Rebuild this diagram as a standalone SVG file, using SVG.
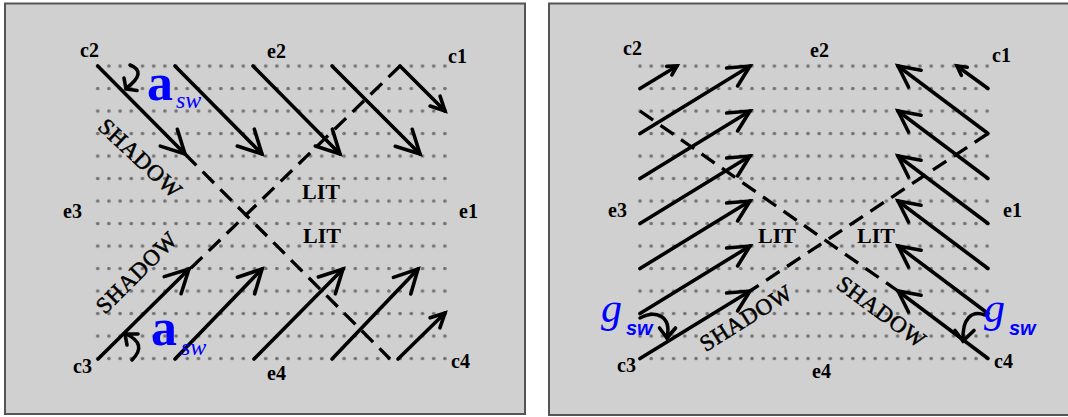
<svg xmlns="http://www.w3.org/2000/svg" width="1068" height="417" viewBox="0 0 1068 417">
<defs>
<style>
.panel{fill:#d0d0d0;stroke:#555;stroke-width:2}
.arr{fill:none;stroke:#000;stroke-width:3.6;stroke-linecap:round}
.dash{fill:none;stroke:#000;stroke-width:3.3;stroke-dasharray:16 9}
.curl{fill:none;stroke:#000;stroke-width:3.5;stroke-linecap:round;stroke-linejoin:miter}
.hd{fill:none;stroke:#000;stroke-width:3.6;stroke-linejoin:miter;stroke-linecap:round}
.lbl{font-family:"Liberation Serif","Times New Roman",serif;font-weight:bold;font-size:20px;fill:#000}
.lit{font-family:"Liberation Serif","Times New Roman",serif;font-weight:bold;font-size:22px;fill:#000}
.shadow{font-family:"Liberation Serif","Times New Roman",serif;font-size:23px;letter-spacing:0.6px;text-anchor:middle;fill:#000;stroke:#000;stroke-width:0.5}
.a{font-family:"Liberation Serif","Times New Roman",serif;font-weight:bold;font-size:52px;fill:#0000ff}
.asub{font-family:"Liberation Serif","Times New Roman",serif;font-style:italic;font-size:24px;fill:#0000ff}
.g{font-family:"Liberation Serif","Times New Roman",serif;font-style:italic;font-size:42px;fill:#0000ff}
.gsub{font-family:"Liberation Sans",Arial,sans-serif;font-style:italic;font-weight:bold;font-size:20px;fill:#0000ff}
</style>
<pattern id="dotsL" patternUnits="userSpaceOnUse" x="92.1" y="54.75" width="11.2" height="22.5"><circle cx="5.6" cy="11.25" r="1.8" fill="#737373"/></pattern>
<pattern id="dotsR" patternUnits="userSpaceOnUse" x="634.4" y="54.75" width="11.2" height="22.5"><circle cx="5.6" cy="11.25" r="1.8" fill="#737373"/></pattern>
<marker id="hL" markerUnits="userSpaceOnUse" orient="auto" markerWidth="40" markerHeight="40" refX="0" refY="0" overflow="visible"><path class="hd" d="M-23,-12 L0,0 L-23,12"/></marker>
<marker id="hM" markerUnits="userSpaceOnUse" orient="auto" markerWidth="40" markerHeight="40" refX="0" refY="0" overflow="visible"><path class="hd" d="M-21,-10.5 L0,0 L-21,10.5"/></marker>
<marker id="hS" markerUnits="userSpaceOnUse" orient="auto" markerWidth="30" markerHeight="30" refX="0" refY="0" overflow="visible"><path class="hd" d="M-14,-7 L0,0 L-14,7"/></marker>
<marker id="hT" markerUnits="userSpaceOnUse" orient="auto" markerWidth="20" markerHeight="20" refX="0" refY="0" overflow="visible"><path class="hd" d="M-9,-5 L0,0 L-9,5"/></marker>
</defs>

<g id="panel-left">
<rect class="panel" x="5" y="3.5" width="520" height="410.5"/>
<rect id="grid-left" x="92.1" y="54.75" width="358.4" height="315" fill="url(#dotsL)"/>
<g id="connectors-left">
<path class="dash" d="M185,154 L390,359"/>
<path class="dash" d="M400,66 L190,269"/>
<path class="arr" d="M97.7,66 L185,154" marker-end="url(#hL)"/>
<path class="arr" d="M175,66 L262,154" marker-end="url(#hL)"/>
<path class="arr" d="M253,66 L340,154" marker-end="url(#hL)"/>
<path class="arr" d="M332,66 L420,154" marker-end="url(#hL)"/>
<path class="arr" d="M400,66 L445,111" marker-end="url(#hS)"/>
<path class="arr" d="M98,359 L189,269" marker-end="url(#hL)"/>
<path class="arr" d="M175,359 L262,269" marker-end="url(#hL)"/>
<path class="arr" d="M254,359 L343,269" marker-end="url(#hL)"/>
<path class="arr" d="M332,359 L418,269" marker-end="url(#hL)"/>
<path class="arr" d="M398,359 L445,313" marker-end="url(#hS)"/>
<path class="curl" d="M130,65 Q148,72 126,88.5"/>
<path class="hd" d="M124,78 L126,89 L137,90.5"/>
<path class="curl" d="M132,360 Q148,344 126,334"/>
<path class="hd" d="M127,345 L125,334 L138,334"/>
</g>
<g id="labels-left">
<text class="lbl" x="80" y="57">c2</text>
<text class="lbl" x="267" y="58">e2</text>
<text class="lbl" x="448" y="63">c1</text>
<text class="lbl" x="63" y="218">e3</text>
<text class="lbl" x="459" y="218">e1</text>
<text class="lbl" x="73" y="373">c3</text>
<text class="lbl" x="267" y="380">e4</text>
<text class="lbl" x="451" y="368">c4</text>
<text class="lit" x="302" y="199">LIT</text>
<text class="lit" x="303" y="243">LIT</text>
<text class="shadow" x="135" y="164" transform="rotate(43 135 164)">SHADOW</text>
<text class="shadow" x="142" y="278" transform="rotate(-45 142 278)">SHADOW</text>
<text x="147" y="100"><tspan class="a">a</tspan><tspan class="asub" dx="3" dy="8">sw</tspan></text>
<text x="151" y="345"><tspan class="a">a</tspan><tspan class="asub" dx="4" dy="10">sw</tspan></text>
</g>
</g>

<g id="panel-right">
<rect class="panel" x="549" y="3.5" width="524" height="411.5"/>
<rect id="grid-right" x="634.4" y="54.75" width="358.4" height="315" fill="url(#dotsR)"/>
<g id="connectors-right">
<path class="dash" d="M640,111 L898,291"/>
<path class="dash" d="M988,133.5 L750,291"/>
<path class="arr" d="M640,88.5 L677,66" marker-end="url(#hT)"/>
<path class="arr" d="M640,133.5 L750,66" marker-end="url(#hM)"/>
<path class="arr" d="M640,178.5 L750,111" marker-end="url(#hM)"/>
<path class="arr" d="M640,223.5 L750,156" marker-end="url(#hM)"/>
<path class="arr" d="M640,268.5 L750,201" marker-end="url(#hM)"/>
<path class="arr" d="M640,313.5 L750,246" marker-end="url(#hM)"/>
<path class="arr" d="M640,358.5 L750,291" marker-end="url(#hM)"/>
<path class="arr" d="M988,88.5 L957,66" marker-end="url(#hT)"/>
<path class="arr" d="M988,133.5 L898,66" marker-end="url(#hM)"/>
<path class="arr" d="M988,178.5 L898,111" marker-end="url(#hM)"/>
<path class="arr" d="M988,223.5 L898,156" marker-end="url(#hM)"/>
<path class="arr" d="M988,268.5 L898,201" marker-end="url(#hM)"/>
<path class="arr" d="M988,313.5 L898,246" marker-end="url(#hM)"/>
<path class="arr" d="M988,358.5 L898,291" marker-end="url(#hM)"/>
<path class="curl" d="M640,318 C655,310 672,315 667,338"/>
<path class="hd" d="M659.5,328 L667,338 L675.5,328"/>
<path class="curl" d="M985,315 C972,310 962,318 963,341"/>
<path class="hd" d="M955,330.5 L963,341 L974,330.5"/>
</g>
<g id="labels-right">
<text class="lbl" x="623" y="55">c2</text>
<text class="lbl" x="810" y="57">e2</text>
<text class="lbl" x="992" y="62">c1</text>
<text class="lbl" x="608" y="217">e3</text>
<text class="lbl" x="1003" y="217">e1</text>
<text class="lbl" x="617" y="372">c3</text>
<text class="lbl" x="812" y="378">e4</text>
<text class="lbl" x="994" y="368">c4</text>
<text class="lit" x="758" y="243">LIT</text>
<text class="lit" x="857" y="243">LIT</text>
<text class="shadow" x="750" y="324.5" transform="rotate(-32 750 324.5)">SHADOW</text>
<text class="shadow" x="877" y="318" transform="rotate(36.5 877 318)">SHADOW</text>
<text x="601" y="322"><tspan class="g">g</tspan><tspan class="gsub" dx="4" dy="13">sw</tspan></text>
<text x="984" y="322"><tspan class="g">g</tspan><tspan class="gsub" dx="4" dy="13">sw</tspan></text>
</g>
</g>
</svg>
